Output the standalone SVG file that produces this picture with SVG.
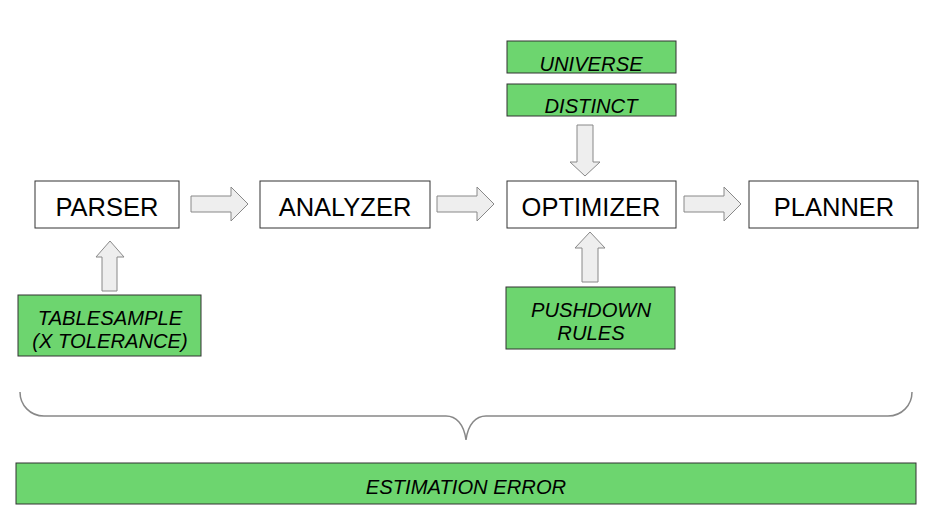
<svg xmlns="http://www.w3.org/2000/svg" width="948" height="529" viewBox="0 0 948 529">
<style>
.box{fill:#ffffff;stroke:#333333;stroke-width:1}
.gbox{fill:#6dd56f;stroke:#333333;stroke-width:1}
.lbl{font-family:"Liberation Sans",Arial,sans-serif;font-size:25.5px;fill:#000;text-anchor:middle}
.glbl{font-family:"Liberation Sans",Arial,sans-serif;font-size:20.2px;font-style:italic;fill:#000;text-anchor:middle}
.arr{fill:#eeeeee;stroke:#888888;stroke-width:1}
.brace{fill:none;stroke:#888888;stroke-width:1.5}
</style>
<rect width="948" height="529" fill="#ffffff"/>
<g id="connectors">
<path class="arr" d="M191,196 H231 V187 L248,204 L231,221 V212 H191 Z"/>
<path class="arr" d="M437,196 H477 V187 L494,204 L477,221 V212 H437 Z"/>
<path class="arr" d="M684,196 H724 V187 L741,204 L724,221 V212 H684 Z"/>
<path class="arr" d="M577,125 H593 V162 H600 L585,176 L570,162 H577 Z"/>
<path class="arr" d="M582,282 H598 V248 H605 L590,232 L575,248 H582 Z"/>
<path class="arr" d="M102,291 H117 V257 H124 L110,241 L96,257 H102 Z"/>
<path class="brace" d="M20,392 C20,405 30,416 44,416 L446,416 C456,416 464,424 466,440 C468,424 476,416 486,416 L888,416 C902,416 912,405 912,392"/>
</g>
<g id="parser"><rect class="box" x="35" y="181" width="144" height="47"/><text class="lbl" x="107" y="216">PARSER</text></g>
<g id="analyzer"><rect class="box" x="260" y="181" width="170" height="47"/><text class="lbl" x="345" y="216">ANALYZER</text></g>
<g id="optimizer"><rect class="box" x="507" y="181" width="169" height="47"/><text class="lbl" x="591" y="216">OPTIMIZER</text></g>
<g id="planner"><rect class="box" x="749" y="181" width="169" height="47"/><text class="lbl" x="834" y="216">PLANNER</text></g>
<g id="universe"><rect class="gbox" x="507" y="41" width="169" height="32"/><text class="glbl" x="591" y="71">UNIVERSE</text></g>
<g id="distinct"><rect class="gbox" x="507" y="84" width="169" height="32"/><text class="glbl" x="591" y="113">DISTINCT</text></g>
<g id="tablesample"><rect class="gbox" x="18" y="295" width="183" height="61"/><text class="glbl" x="110" y="325">TABLESAMPLE</text><text class="glbl" x="110" y="348">(X TOLERANCE)</text></g>
<g id="pushdown"><rect class="gbox" x="506" y="287" width="169" height="62"/><text class="glbl" x="591" y="317">PUSHDOWN</text><text class="glbl" x="591" y="340">RULES</text></g>
<g id="estimation"><rect class="gbox" x="16" y="463" width="900" height="41"/><text class="glbl" x="466" y="494">ESTIMATION ERROR</text></g>
</svg>
